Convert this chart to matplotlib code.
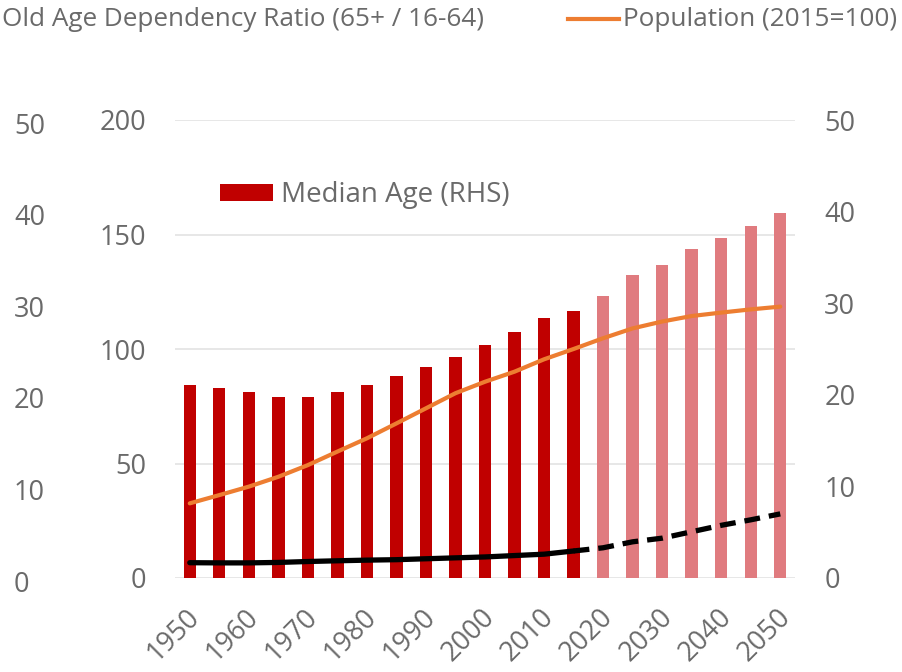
import matplotlib
matplotlib.use("Agg")
import matplotlib.pyplot as plt
from matplotlib.lines import Line2D
import numpy as np

# ---------------- data ----------------
years = [1950, 1955, 1960, 1965, 1970, 1975, 1980, 1985, 1990, 1995, 2000,
         2005, 2010, 2015, 2020, 2025, 2030, 2035, 2040, 2045, 2050]
median_age = [21.1, 20.7, 20.3, 19.8, 19.8, 20.3, 21.1, 22.0, 23.0, 24.1, 25.4,
              26.9, 28.4, 29.1, 30.8, 33.1, 34.2, 35.9, 37.1, 38.4, 39.9]
population = [32.6, 36.2, 39.9, 44.2, 49.3, 55.2, 61.0, 67.5, 74.1, 80.7, 85.7,
              90.1, 95.5, 100.0, 104.7, 109.0, 112.0, 114.4, 115.9, 117.3, 118.5]
old_age_ratio = [1.67, 1.65, 1.65, 1.70, 1.80, 1.88, 1.95, 2.00, 2.10, 2.20, 2.30,
                 2.45, 2.60, 2.95, 3.30, 3.95, 4.35, 5.05, 5.75, 6.35, 7.00]
last_actual_year = 2015
xtick_years = [1950, 1960, 1970, 1980, 1990, 2000, 2010, 2020, 2030, 2040, 2050]
pop_ticks = [0, 50, 100, 150, 200]
ratio_ticks = [0, 10, 20, 30, 40, 50]

label_actual = "Median Age (RHS)"
label_ratio = "Old Age Dependency Ratio (65+ / 16-64)"
label_pop = "Population (2015=100)"

# ---------------- style ----------------
TXT = "#6a6a6a"
GRID = "#e3e3e3"
DARK_RED = "#C00000"
LIGHT_RED = "#E07B7F"
ORANGE = "#ED7D31"
FS = 19.5
FS_TOP = 18.8
plt.rcParams["font.family"] = ["Open Sans", "DejaVu Sans"]

fig = plt.figure(figsize=(9.02, 6.72), dpi=100)
L, R, B, T = 175 / 902, 795 / 902, 1 - 578 / 672, 1 - 120 / 672
ax = fig.add_axes([L, B, R - L, T - B])
ax_bar = ax.twinx()
ax_pop = ax.twinx()
ax_old = ax.twinx()

yrs = np.array(years)
ma = np.array(median_age)
pop = np.array(population)
oar = np.array(old_age_ratio)
actual = yrs <= last_actual_year

# host axis: population scale + gridlines
ax.set_xlim(1947.5, 2052.5)
ax.set_ylim(0, 200)
ax.set_yticks(pop_ticks)
ax.grid(axis="y", color=GRID, lw=1.2)
ax.set_axisbelow(True)
ax.tick_params(axis="y", length=0, pad=21, labelsize=FS, labelcolor=TXT)
ax.tick_params(axis="x", length=0, labelsize=FS, labelcolor=TXT)
ax.set_xticks(xtick_years)
ax.set_xticklabels([str(y) for y in xtick_years], rotation=45, ha="right",
                   va="center", rotation_mode="anchor")
for lab in ax.get_xticklabels():
    lab.set_transform(lab.get_transform() +
                      matplotlib.transforms.ScaledTranslation(6 / 100, -30 / 100, fig.dpi_scale_trans))

# bars: median age (RHS)
ax_bar.set_ylim(0, 50)
ax_bar.set_yticks(ratio_ticks)
ax_bar.bar(yrs[actual], ma[actual], width=2.1, color=DARK_RED, label=label_actual)
ax_bar.bar(yrs[~actual], ma[~actual], width=2.1, color=LIGHT_RED)
ax_bar.tick_params(axis="y", length=0, pad=21, labelsize=FS, labelcolor=TXT)
for lab in ax_bar.get_yticklabels():
    lab.set_horizontalalignment("left")

# population line
ax_pop.set_ylim(0, 200)
ax_pop.set_yticks([])
ax_pop.plot(yrs, pop, color=ORANGE, lw=3.0, solid_capstyle="round",
            solid_joinstyle="round")

# old age dependency ratio (outer left axis)
ax_old.set_ylim(0, 50)
ax_old.set_yticks(ratio_ticks)
ax_old.yaxis.set_ticks_position("left")
ax_old.yaxis.set_label_position("left")
ax_old.tick_params(axis="y", length=0, pad=116, labelsize=FS, labelcolor=TXT,
                   left=True, labelleft=True, right=False, labelright=False)
for lab in ax_old.get_yticklabels():
    lab.set_horizontalalignment("left")
    lab.set_transform(lab.get_transform() +
                      matplotlib.transforms.ScaledTranslation(0, -3 / 100, fig.dpi_scale_trans))
ax_old.plot(yrs[actual], oar[actual], color="black", lw=3.8, solid_capstyle="round")
idx = np.where(actual)[0][-1]
ax_old.plot(yrs[idx:], oar[idx:], color="black", lw=3.8, dashes=(3.0, 1.7))

for a in (ax, ax_bar, ax_pop, ax_old):
    for s in a.spines.values():
        s.set_visible(False)
    a.patch.set_visible(False)

# legend inside plot
ax_bar.legend(loc="center left", bbox_to_anchor=(0.0726, 0.836), frameon=False,
              fontsize=FS + 0.5, labelcolor=TXT, borderpad=0, borderaxespad=0,
              handlelength=1.9, handleheight=0.55, handletextpad=0.3)

# top legend
fig.text(2 / 902, 1 - 20 / 672, label_ratio, ha="left", va="center",
         fontsize=FS_TOP, color=TXT)
fig.add_artist(Line2D([568 / 902, 619 / 902], [1 - 19 / 672, 1 - 19 / 672],
                      transform=fig.transFigure, color=ORANGE, lw=3.0))
fig.text(897 / 902, 1 - 20 / 672, label_pop, ha="right", va="center",
         fontsize=FS_TOP, color=TXT)

fig.savefig("out.png", dpi=100)
